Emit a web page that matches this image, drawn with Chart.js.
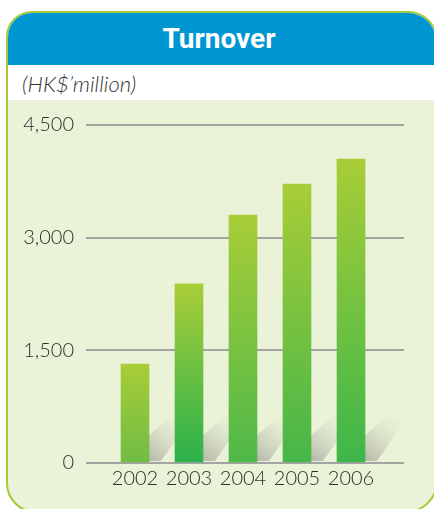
<!DOCTYPE html>
<html><head><meta charset="utf-8">
<script src="https://cdn.jsdelivr.net/npm/chart.js@4.4.1/dist/chart.umd.min.js"></script>
<style>
html,body{margin:0;padding:0;width:434px;height:509px;overflow:hidden;background:#fff;}
#panel{position:absolute;left:6px;top:11px;width:432px;height:502px;box-sizing:border-box;border:2.5px solid #a5c93b;border-radius:26px 30px 32px 30px;overflow:hidden;background:#eaf3d7;}
#head{position:absolute;left:0;top:0;width:100%;height:52px;background:#0096d1;}
#sub{position:absolute;left:0;top:52px;width:100%;height:35px;background:#fff;}
#title{position:absolute;left:0;top:23px;width:438px;text-align:center;color:#fff;font-family:"Liberation Sans Narrow","Arial Narrow",Roboto,sans-serif;font-weight:bold;font-size:28px;line-height:32px;}
#unit{position:absolute;left:22px;top:71px;color:#333;font-family:Lato,"Open Sans",sans-serif;font-style:italic;font-weight:300;font-size:22px;line-height:26px;}
#wrap{position:absolute;left:0;top:101px;width:434px;height:408px;}
</style></head>
<body>
<div id="panel"><div id="head"></div><div id="sub"></div></div>
<div id="title">Turnover</div>
<div id="unit">(HK$’million)</div>
<div id="wrap"><canvas id="c" width="434" height="408"></canvas></div>
<script>
const categories = ['2002', '2003', '2004', '2005', '2006'];
const turnover = [1318, 2385, 3300, 3713, 4045];
const yTicks = [0, 1500, 3000, 4500];

const barTop = '#a8cd37';
const barBottoms = ['#70bc45', '#2bb24c', '#4eb849', '#46b649', '#3db64a'];

const shadowPlugin = {
  id: 'shadows',
  beforeDatasetsDraw(chart) {
    const ctx = chart.ctx;
    const meta = chart.getDatasetMeta(0);
    ctx.save();
    meta.data.forEach(bar => {
      const xr = bar.x + bar.width / 2;
      const yb = bar.base - 1;
      const g = ctx.createLinearGradient(xr, yb, xr + 34, yb - 44);
      g.addColorStop(0, 'rgba(170,172,160,0.85)');
      g.addColorStop(1, 'rgba(215,220,200,0)');
      ctx.fillStyle = g;
      ctx.beginPath();
      ctx.moveTo(xr, yb);
      ctx.lineTo(xr, yb - 26);
      ctx.lineTo(xr + 24, yb - 46);
      ctx.lineTo(xr + 37, yb - 36);
      ctx.lineTo(xr + 12, yb);
      ctx.closePath();
      ctx.fill();
    });
    ctx.restore();
  }
};

const tickFont = (s) => ({family: 'Lato, "Open Sans", sans-serif', size: s, weight: 300});

new Chart(document.getElementById('c'), {
  type: 'bar',
  data: {
    labels: categories,
    datasets: [{
      data: turnover,
      barThickness: 28,
      borderWidth: 0,
      backgroundColor(context) {
        const chart = context.chart;
        if (!chart.chartArea || !context.parsed) return barTop;
        const ys = chart.scales.y;
        const top = ys.getPixelForValue(context.parsed.y);
        const bot = ys.getPixelForValue(0);
        const g = chart.ctx.createLinearGradient(0, top, 0, bot);
        g.addColorStop(0, barTop);
        g.addColorStop(1, barBottoms[context.dataIndex]);
        return g;
      }
    }]
  },
  options: {
    responsive: false,
    animation: false,
    layout: {padding: {top: 18, bottom: 22, left: 0, right: 0}},
    plugins: {legend: {display: false}, tooltip: {enabled: false}},
    scales: {
      x: {
        grid: {display: false},
        border: {display: false},
        ticks: {color: '#2e2e2e', font: tickFont(20), padding: -4}
      },
      y: {
        position: 'left',
        min: 0, max: 4500,
        afterBuildTicks(s) { s.ticks = yTicks.map(v => ({value: v})); },
        afterFit(s) { s.width = 108; },
        grid: {color: '#a3a3a3', lineWidth: 2, tickLength: 22},
        border: {display: false},
        ticks: {color: '#2e2e2e', font: tickFont(20), padding: 12,
          callback: v => v.toLocaleString('en-US')}
      },
      y2: {
        position: 'right',
        min: 0, max: 4500,
        afterBuildTicks(s) { s.ticks = yTicks.map(v => ({value: v})); },
        afterFit(s) { s.width = 56; },
        grid: {color: '#a3a3a3', lineWidth: 2, tickLength: 26, drawOnChartArea: false},
        border: {display: false},
        ticks: {display: false}
      }
    }
  },
  plugins: [shadowPlugin]
});
</script>
</body></html>
